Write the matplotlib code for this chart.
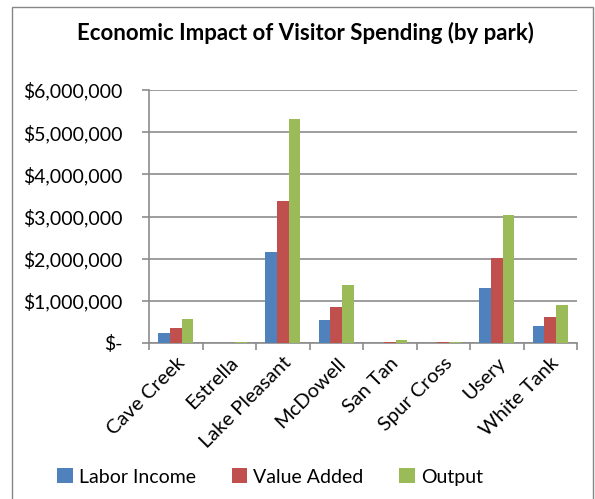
import numpy as np
import matplotlib.pyplot as plt
from matplotlib.ticker import FuncFormatter
from matplotlib.patches import Rectangle

plt.rcParams['font.family'] = ['Lato', 'DejaVu Sans']

parks = ["Cave Creek", "Estrella", "Lake Pleasant", "McDowell",
         "San Tan", "Spur Cross", "Usery", "White Tank"]
labor_income = [230000, 5000, 2160000, 550000, 10000, 5000, 1300000, 400000]
value_added = [360000, 8000, 3360000, 860000, 30000, 20000, 2010000, 620000]
output = [560000, 20000, 5310000, 1370000, 70000, 30000, 3030000, 900000]

series = [("Labor Income", labor_income, "#4f81bd"),
          ("Value Added", value_added, "#c0504d"),
          ("Output", output, "#9bbb59")]

fig = plt.figure(figsize=(5.95, 4.99), dpi=100)
ax = fig.add_axes([149 / 595, 1 - 343 / 499, 428 / 595, 253 / 499])

# chart border
fig.patches.append(Rectangle((12 / 595, -0.01), 581 / 595, 1 - 7 / 499 + 0.01,
                             transform=fig.transFigure, fill=False,
                             edgecolor="#868686", linewidth=1.0))

x = np.arange(len(parks))
w = 0.218
for k, (name, vals, col) in enumerate(series):
    ax.bar(x + (k - 1) * w, vals, width=w, color=col, label=name, zorder=3)

ax.set_xlim(-0.5, len(parks) - 0.5)
ax.set_ylim(0, 6000000)
ax.set_yticks(np.arange(0, 6000001, 1000000))


def money(v, pos):
    if v == 0:
        return "$-"
    return "${:,.0f}".format(v)


ax.yaxis.set_major_formatter(FuncFormatter(money))
ax.grid(axis="y", color="#8c8c8c", linewidth=1.2, zorder=0)
ax.set_axisbelow(True)

for s in ["top", "right"]:
    ax.spines[s].set_visible(False)
for s in ["left", "bottom"]:
    ax.spines[s].set_color("#8c8c8c")
    ax.spines[s].set_linewidth(1.2)

ax.set_xticks(x)
ax.set_xticklabels(parks, rotation=45, ha="right", rotation_mode="anchor",
                   fontsize=14.5)
ax.tick_params(axis="x", length=0, pad=8)
ax.set_xticks(np.arange(-0.5, len(parks)), minor=True)
ax.tick_params(axis="x", which="minor", length=5, color="#8c8c8c", width=1.2)
ax.tick_params(axis="y", length=5, color="#8c8c8c", width=1.2, labelsize=14, pad=14)

fig.text(305 / 595, 1 - 33 / 499, "Economic Impact of Visitor Spending (by park)",
         ha="center", va="center", fontsize=16, fontweight="bold")

fig.legend(loc="center", bbox_to_anchor=(270 / 595, 1 - 477 / 499), ncol=3,
           frameon=False, fontsize=14, handlelength=0.8, handleheight=0.8,
           handletextpad=0.3, columnspacing=1.85)

fig.savefig("out.png", dpi=100)
